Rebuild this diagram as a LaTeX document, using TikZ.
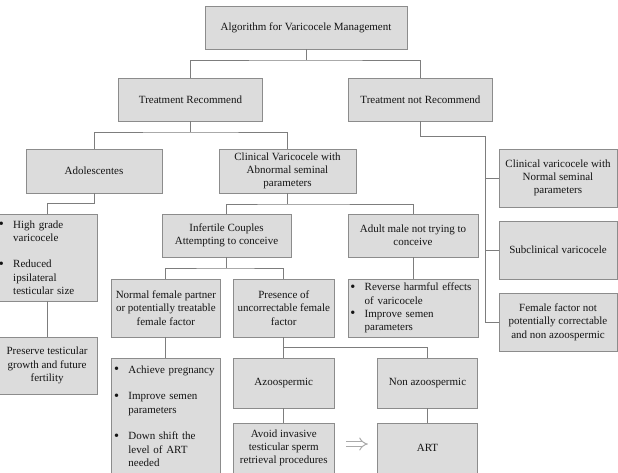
\documentclass[tikz,border=0pt]{standalone}
\usepackage{fontspec}
\setmainfont{Liberation Serif}
\usetikzlibrary{arrows.meta}
\definecolor{boxfill}{RGB}{220,220,220}
\definecolor{boxline}{RGB}{140,140,140}
\definecolor{linecol}{RGB}{125,125,125}
\definecolor{arrowc}{RGB}{170,170,170}
\definecolor{txt}{RGB}{20,20,20}
\newcommand{\bl}{\makebox[16.7pt][l]{\hspace{2.4pt}\raisebox{-0.3pt}{\scalebox{1.3}{\textbullet}}}}
\newcommand{\ind}{\hspace*{16.7pt}}
\begin{document}
\begin{tikzpicture}[x=1pt,y=-1pt,
  font=\fontsize{11}{13.3}\selectfont,
  box/.style={draw=boxline, fill=boxfill, line width=0.9pt, inner sep=0pt, align=center, text=txt},
  blist/.style={box, align=left},
  link/.style={draw=linecol, line width=0.9pt},
  hollow/.style={draw=arrowc, double=white, double distance=3.5pt, line width=1pt, -{Implies}}]
\useasboundingbox (0,0) rectangle (618,472);
\clip (0,0) rectangle (618,472);
\fill[white] (0,0) rectangle (618,472);

\node[box, minimum width=202pt, minimum height=43pt] (top) at (306,27.5) {Algorithm for Varicocele Management};
\node[box, minimum width=144pt, minimum height=43pt] (tr) at (190.5,99.5) {Treatment Recommend};
\node[box, minimum width=144pt, minimum height=43pt] (tnr) at (420.4,99.5) {Treatment not Recommend};
\node[box, minimum width=136pt, minimum height=44pt] (adol) at (94,171) {Adolescentes};
\node[box, minimum width=137pt, minimum height=44pt] (clin) at (287.5,171) {Clinical Varicocele with\\Abnormal seminal\\parameters};
\node[box, minimum width=118pt, minimum height=58pt] (normal) at (558,178) {Clinical varicocele with\\Normal seminal\\parameters};
\node[box, minimum width=118pt, minimum height=58pt] (subclin) at (558,250) {Subclinical varicocele};
\node[box, minimum width=118pt, minimum height=58pt] (femfac) at (558,322) {Female factor not\\potentially correctable\\and non azoospermic};
\node[box, minimum width=129pt, minimum height=43pt] (infert) at (226.5,235.5) {Infertile Couples\\Attempting to conceive};
\node[box, minimum width=130pt, minimum height=43pt] (adult) at (413,235.5) {Adult male not trying to\\conceive};
\node[blist, text width=101.2pt, minimum height=87pt] (bull1) at (47.1,257.5) {\bl High grade\\ \ind varicocele\\[13.3pt] \bl Reduced\\ \ind ipsilateral\\ \ind testicular size};
\node[box, minimum width=101.2pt, minimum height=57pt] (preserve) at (47.1,365.5) {Preserve testicular\\growth and future\\fertility};
\node[box, minimum width=108.3pt, minimum height=58pt] (nfp) at (165.85,308) {Normal female partner\\or potentially treatable\\female factor};
\node[box, minimum width=101pt, minimum height=58pt] (pres) at (283.8,308) {Presence of\\uncorrectable female\\factor};
\node[blist, text width=130pt, minimum height=58pt] (rev) at (413,308) {\bl Reverse harmful effects\\ \ind of varicocele\\ \bl Improve semen\\ \ind parameters};
\node[blist, text width=108.3pt, minimum height=116pt] (ach) at (165.85,416) {\bl Achieve pregnancy\\[13.4pt] \bl Improve semen\\ \ind parameters\\[13.4pt] \bl Down shift the\\ \ind level of ART\\ \ind needed};
\node[box, minimum width=101pt, minimum height=50pt] (azo) at (283.8,383) {Azoospermic};
\node[box, minimum width=100.4pt, minimum height=50pt] (nazo) at (427.5,383) {Non azoospermic};
\node[box, minimum width=101pt, minimum height=50pt] (avoid) at (283.8,448) {Avoid invasive\\testicular sperm\\retrieval procedures};
\node[box, minimum width=100.4pt, minimum height=50pt] (art) at (427.5,448) {ART};

\coordinate (j1) at (306,60);
\draw[link] (top.south) -- (j1);
\draw[link] (tr.north) |- (j1) -| (tnr.north);

\coordinate (j2) at (190.5,132);
\draw[link] (tr.south) -- (j2);
\draw[link] (adol.north) |- (j2) -| (clin.north);

\coordinate (j3) at (485,136);
\draw[link] (tnr.south) |- (j3) |- (femfac.west);
\draw[link] (normal.west) -- (normal.west -| j3);
\draw[link] (subclin.west) -- (subclin.west -| j3);

\coordinate (j4) at (94,203);
\draw[link] (adol.south) -- (j4) -| (bull1.north);

\coordinate (j5) at (287.5,204);
\draw[link] (clin.south) -- (j5);
\draw[link] (infert.north) |- (j5) -| (adult.north);

\coordinate (j6) at (226.5,268);
\draw[link] (infert.south) -- (j6);
\draw[link] (nfp.north) |- (j6) -| (pres.north);

\draw[link] (adult.south) -- (rev.north);
\draw[link] (bull1.south) -- (preserve.north);
\draw[link] (nfp.south) -- (ach.north);
\draw[link] (pres.south) -- (azo.north);
\coordinate (j7) at (283.8,347.3);
\draw[link] (j7) -| (nazo.north);
\draw[link] (azo.south) -- (avoid.north);
\draw[link] (nazo.south) -- (art.north);

\draw[hollow] ([xshift=11.5pt,yshift=4pt]avoid.east) -- ([xshift=-9pt,yshift=4pt]art.west);
\end{tikzpicture}
\end{document}
